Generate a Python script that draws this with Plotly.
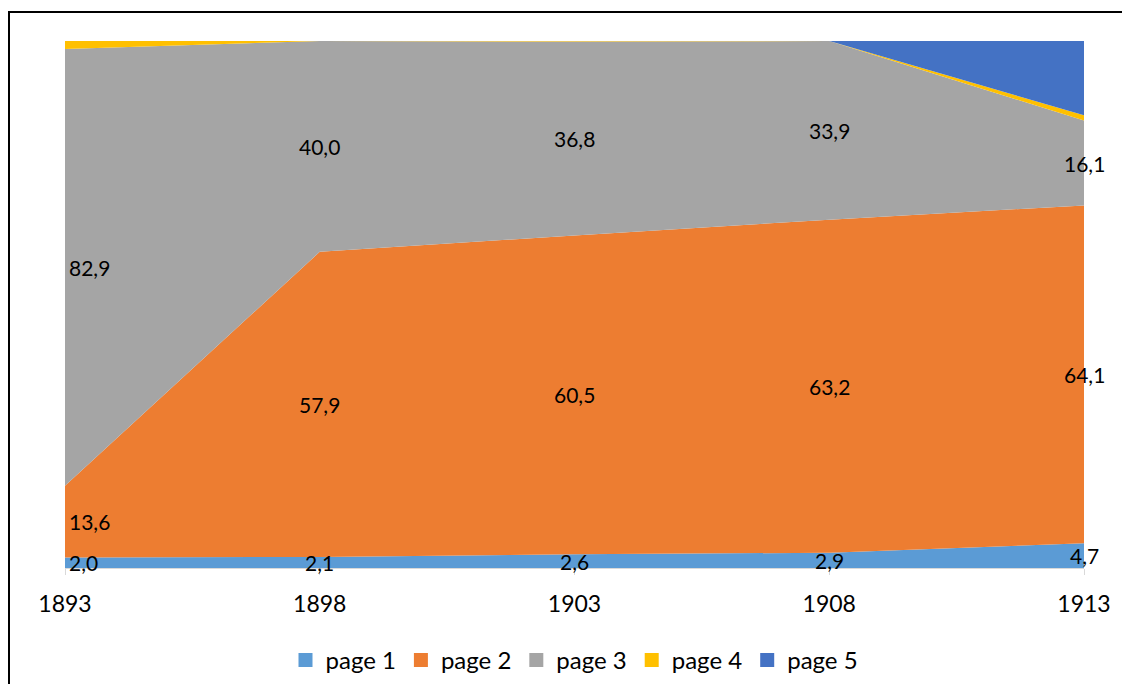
import plotly.graph_objects as go

years = [1893, 1898, 1903, 1908, 1913]
series_names = ["page 1", "page 2", "page 3", "page 4", "page 5"]
page1 = [2.0, 2.1, 2.6, 2.9, 4.7]
page2 = [13.6, 57.9, 60.5, 63.2, 64.1]
page3 = [82.9, 40.0, 36.8, 33.9, 16.1]
page4 = [1.5, 0.0, 0.1, 0.0, 1.0]
page5 = [0.0, 0.0, 0.0, 0.0, 14.1]
colors = ["#5B9BD5", "#ED7D31", "#A5A5A5", "#FFC000", "#4472C4"]
labelled = [True, True, True, False, False]

series = [page1, page2, page3, page4, page5]
FONT = "Lato, Carlito, Calibri, sans-serif"

fig = go.Figure()
for name, vals, col in zip(series_names, series, colors):
    fig.add_trace(go.Scatter(
        x=years, y=vals, name=name, mode="lines",
        stackgroup="one", line=dict(width=0, color=col),
        fillcolor=col, showlegend=False, hoverinfo="skip"))

# legend entries
for name, col in zip(series_names, colors):
    fig.add_trace(go.Scatter(
        x=[None], y=[None], name=name, mode="markers",
        marker=dict(symbol="square", size=14, color=col),
        showlegend=True))

# data labels in the middle of each band
base = [0.0] * len(years)
for vals, lab in zip(series, labelled):
    for i, (yr, v) in enumerate(zip(years, vals)):
        mid = base[i] + v / 2
        if lab:
            if i == 0:
                xa, xs = "left", 2
            else:
                xa, xs = "center", 0
            fig.add_annotation(
                x=yr, y=mid, text=f"{v:.1f}".replace(".", ","),
                showarrow=False, xanchor=xa, yanchor="middle", xshift=xs,
                font=dict(family=FONT, size=21, color="#000000"))
        base[i] += v

# page body has an 8px offset in the browser; keep the page free of overflow
W, H = 1114, 676
ml, mr, mt, mb = 57, 38, 33, 116
pw, ph = W - ml - mr, H - mt - mb

# outer chart border: only the left and top edges are visible
bx0 = (1 - ml) / pw
bx1 = (W - ml) / pw
by_top = 1 + (mt - 4) / ph
by_bot = 1 - (H - mt) / ph
fig.add_shape(type="line", xref="paper", yref="paper",
              x0=bx0 - 1 / pw, x1=bx1, y0=by_top, y1=by_top,
              line=dict(color="#000000", width=2), layer="above")
fig.add_shape(type="line", xref="paper", yref="paper",
              x0=bx0, x1=bx0, y0=by_top, y1=by_bot,
              line=dict(color="#000000", width=2), layer="above")

fig.update_layout(
    width=W, height=H,
    margin=dict(l=ml, r=mr, t=mt, b=mb),
    paper_bgcolor="white", plot_bgcolor="white",
    font=dict(family=FONT, size=21, color="#000000"),
    xaxis=dict(range=[years[0], years[-1]], tickvals=years,
               ticktext=[str(y) for y in years],
               showgrid=False, zeroline=False,
               showline=True, linecolor="#D9D9D9", linewidth=1,
               ticks="outside", ticklen=6, tickcolor="#D9D9D9",
               tickfont=dict(family=FONT, size=23, color="#000000"),
               ticklabelstandoff=9),
    yaxis=dict(range=[0, 100], visible=False, showgrid=False, zeroline=False),
    legend=dict(orientation="h", x=0.5, xanchor="center",
                yref="container", y=1 - 630 / H,
                yanchor="top", font=dict(family=FONT, size=24),
                itemwidth=30, tracegroupgap=0, traceorder="normal"),
    showlegend=True,
)

fig.write_html("out.html")
